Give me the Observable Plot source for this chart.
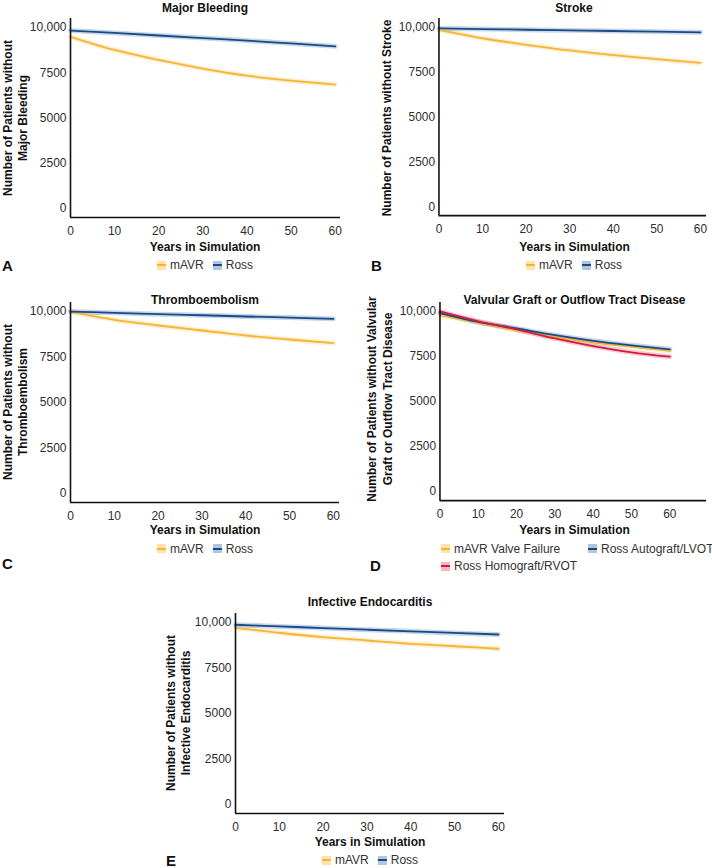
<!DOCTYPE html>
<html>
<head>
<meta charset="utf-8">
<script src="https://cdn.jsdelivr.net/npm/d3@7"></script>
<script src="https://cdn.jsdelivr.net/npm/@observablehq/plot@0.6"></script>
<style>
  html, body { margin: 0; padding: 0; background: #fff; }
  #root { position: relative; width: 712px; height: 868px; overflow: hidden;
          font-family: "Liberation Sans", Arial, Helvetica, sans-serif; color: #111; }
  .abs { position: absolute; white-space: nowrap; }
  .title { font-weight: bold; font-size: 12px; transform: translate(-50%, -50%); }
  .xlab { font-weight: bold; font-size: 12px; transform: translate(-50%, -50%); }
  .ylab { font-weight: bold; font-size: 12px; text-align: center; transform: translate(-50%, -50%) rotate(-90deg); }
  .letter { font-weight: bold; font-size: 15px; transform: translate(0, -50%); }
  .legend { font-size: 12px; display: flex; align-items: center; transform: translate(-50%, -50%); color: #333; }
  .item { display: flex; align-items: center; margin-right: 9px; }
  .item:last-child { margin-right: 0; }
  .sw { position: relative; display: inline-block; width: 9px; height: 9px; margin-right: 4px; }
  .sw i { position: absolute; left: 0; right: 0; top: 3.5px; height: 2px; }
  .plotbox { position: absolute; }
</style>
</head>
<body>
<div id="root"></div>
<script>
// ---------- data ----------
const years = [0, 10, 20, 30, 40, 50, 60];
const yTicks = [0, 2500, 5000, 7500, 10000];
const yTickLabels = ["0", "2500", "5000", "7500", "10,000"];
const xTicks = [0, 10, 20, 30, 40, 50, 60];

const bleedingMAVR = [9490, 8760, 8210, 7730, 7340, 7065, 6850];
const bleedingRoss = [9835, 9700, 9560, 9420, 9280, 9120, 8960];

const strokeMAVR = [9860, 9395, 9030, 8715, 8460, 8225, 8020];
const strokeRoss = [9945, 9910, 9870, 9835, 9800, 9760, 9725];

const thromboMAVR = [10000, 9550, 9235, 8960, 8685, 8465, 8260];
const thromboRoss = [10000, 9930, 9860, 9800, 9730, 9670, 9600];

const valveMAVR = [9785, 9385, 8960, 8590, 8285, 8045, 7820];
const valveRossAuto = [9910, 9415, 9055, 8685, 8370, 8120, 7900];
const valveRossHomo = [10000, 9455, 9000, 8505, 8080, 7735, 7490];

const endoMAVR = [9715, 9440, 9195, 9015, 8835, 8700, 8560];
const endoRoss = [9880, 9790, 9700, 9610, 9520, 9430, 9345];

const seriesNames2 = ["mAVR", "Ross"];
const seriesNames3 = ["mAVR Valve Failure", "Ross Autograft/LVOT", "Ross Homograft/RVOT"];

const colOrange = "#f8b431", colBlue = "#134b8b", colRed = "#d8173f";
const lightOrange = "#fde2ad", lightBlue = "#b4c4dd", lightRed = "#f3b5c0";

function rows(names, arrays) {
  const out = [];
  names.forEach((n, k) => years.forEach((yr, i) => out.push({series: n, year: yr, value: arrays[k][i]})));
  return out;
}

const root = document.getElementById("root");

function addText(cls, html, x, y, extra) {
  const d = document.createElement("div");
  d.className = "abs " + cls;
  d.style.left = x + "px";
  d.style.top = y + "px";
  if (extra) Object.assign(d.style, extra);
  d.innerHTML = html;
  root.appendChild(d);
  return d;
}

function swatch(light, dark) {
  return `<span class="sw" style="background:${light}"><i style="background:${dark}"></i></span>`;
}

function panel(o) {
  const mL = 60, mR = 6, mT = 6, mB = 26;
  const frameW = o.right - o.left, frameH = o.bottom - o.top;
  const data = rows(o.names, o.arrays);
  const chart = Plot.plot({
    width: frameW + mL + mR,
    height: frameH + mT + mB,
    marginLeft: mL, marginRight: mR, marginTop: mT, marginBottom: mB,
    style: {fontFamily: "'Liberation Sans', Arial, sans-serif", fontSize: "12px", color: "#2e2e2e", background: "transparent", overflow: "visible"},
    x: {domain: [0, o.xMax]},
    y: {domain: [-500, 10500]},
    color: {domain: o.names, range: o.colors},
    marks: [
      Plot.axisX({ticks: xTicks, tickFormat: d => String(d), tickSize: 0, tickPadding: 9, label: null}),
      Plot.axisY({ticks: yTicks, tickFormat: d => yTickLabels[yTicks.indexOf(d)], tickSize: 0, tickPadding: 4, label: null}),
      Plot.line(data, {x: "year", y: "value", z: "series", stroke: "series", strokeWidth: 5, strokeOpacity: 0.22, curve: "monotone-x"}),
      Plot.line(data, {x: "year", y: "value", z: "series", stroke: "series", strokeWidth: 1.8, curve: "monotone-x"}),
      Plot.ruleX([0], {stroke: "#111", strokeWidth: 1.6}),
      Plot.ruleY([-500], {stroke: "#111", strokeWidth: 1.6})
    ]
  });
  const box = document.createElement("div");
  box.className = "plotbox";
  box.style.left = (o.left - mL) + "px";
  box.style.top = (o.top - mT) + "px";
  box.appendChild(chart);
  root.appendChild(box);
}

// A
panel({left: 70, right: 340, top: 18, bottom: 217, xMax: 61.2, names: seriesNames2, arrays: [bleedingMAVR, bleedingRoss], colors: [colOrange, colBlue]});
addText("title", "Major Bleeding", 205, 8);
addText("ylab", "Number of Patients without<br>Major Bleeding", 14.5, 117.5, {lineHeight: "14.5px"});
addText("xlab", "Years in Simulation", 205, 247);
addText("legend", `<span class="item">${swatch(lightOrange, colOrange)}mAVR</span><span class="item">${swatch(lightBlue, colBlue)}Ross</span>`, 205, 265);
addText("letter", "A", 2, 265);

// B
panel({left: 439, right: 709, top: 18, bottom: 217, xMax: 61.4, names: seriesNames2, arrays: [strokeMAVR, strokeRoss], colors: [colOrange, colBlue]});
addText("title", "Stroke", 574, 8);
addText("ylab", "Number of Patients without Stroke", 387, 117.5);
addText("xlab", "Years in Simulation", 574.5, 247);
addText("legend", `<span class="item">${swatch(lightOrange, colOrange)}mAVR</span><span class="item">${swatch(lightBlue, colBlue)}Ross</span>`, 574, 265);
addText("letter", "B", 371, 265);

// C
panel({left: 70, right: 339, top: 302, bottom: 502, xMax: 61.4, names: seriesNames2, arrays: [thromboMAVR, thromboRoss], colors: [colOrange, colBlue]});
addText("title", "Thromboembolism", 205, 299.5);
addText("ylab", "Number of Patients without<br>Thromboembolism", 14.5, 402, {lineHeight: "14.5px"});
addText("xlab", "Years in Simulation", 205, 530);
addText("legend", `<span class="item">${swatch(lightOrange, colOrange)}mAVR</span><span class="item">${swatch(lightBlue, colBlue)}Ross</span>`, 205, 548.5);
addText("letter", "C", 2, 563);

// D
panel({left: 440, right: 709, top: 302, bottom: 502, xMax: 69.6, names: seriesNames3, arrays: [valveMAVR, valveRossAuto, valveRossHomo], colors: [colOrange, colBlue, colRed]});
addText("title", "Valvular Graft or Outflow Tract Disease", 574.5, 299.5);
addText("ylab", "Number of Patients without Valvular<br>Graft or Outflow Tract Disease", 380, 399, {lineHeight: "16px"});
addText("xlab", "Years in Simulation", 574.5, 530);
addText("legend", `<span class="item">${swatch(lightOrange, colOrange)}${seriesNames3[0]}</span>`, 441, 548.5, {transform: "translate(0,-50%)"});
addText("legend", `<span class="item">${swatch(lightBlue, colBlue)}${seriesNames3[1]}</span>`, 588, 548.5, {transform: "translate(0,-50%)"});
addText("legend", `<span class="item">${swatch(lightRed, colRed)}${seriesNames3[2]}</span>`, 441, 566, {transform: "translate(0,-50%)"});
addText("letter", "D", 370, 565);

// E
panel({left: 235, right: 504, top: 613, bottom: 813, xMax: 61.4, names: seriesNames2, arrays: [endoMAVR, endoRoss], colors: [colOrange, colBlue]});
addText("title", "Infective Endocarditis", 370, 602);
addText("ylab", "Number of Patients without<br>Infective Endocarditis", 179, 713, {lineHeight: "15px"});
addText("xlab", "Years in Simulation", 370, 842);
addText("legend", `<span class="item">${swatch(lightOrange, colOrange)}mAVR</span><span class="item">${swatch(lightBlue, colBlue)}Ross</span>`, 370, 860);
addText("letter", "E", 166, 860);
</script>
</body>
</html>
